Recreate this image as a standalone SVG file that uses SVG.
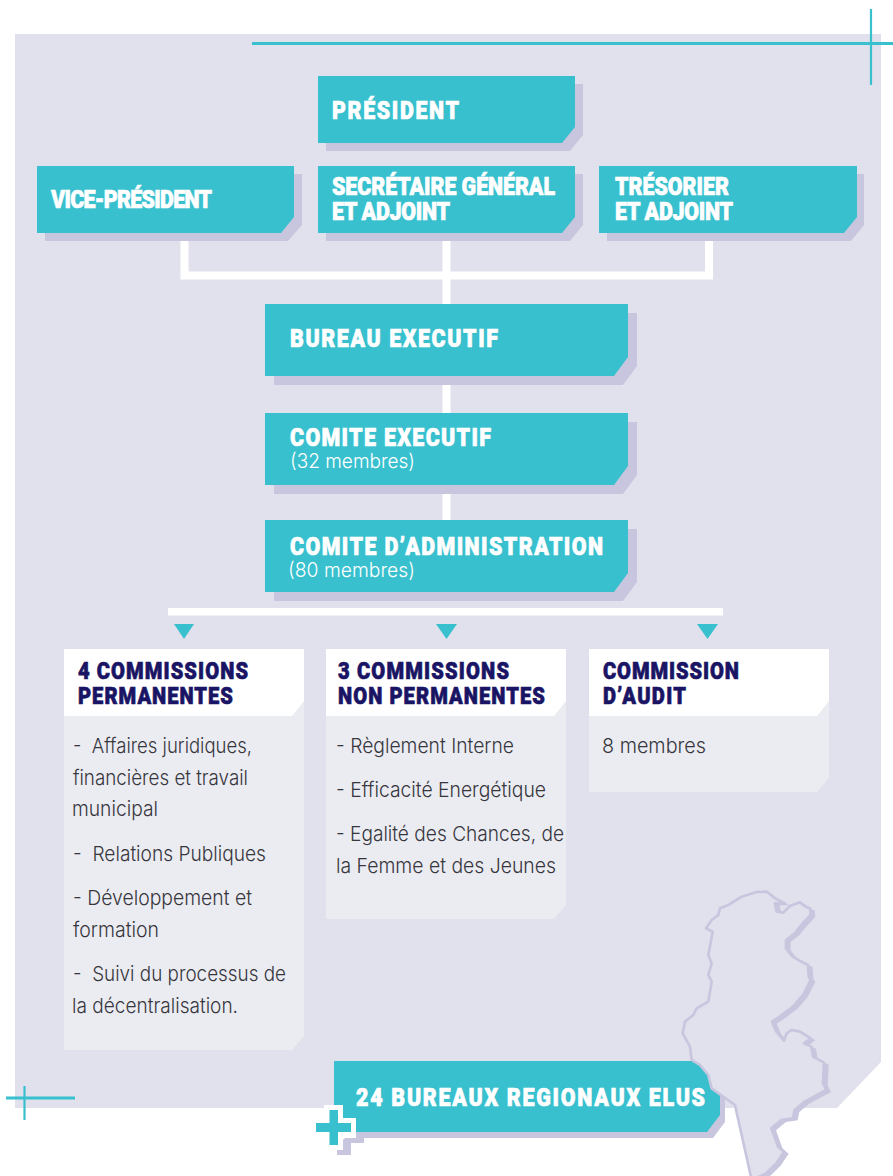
<svg xmlns="http://www.w3.org/2000/svg" width="893" height="1176" viewBox="0 0 893 1176">
<style>
.t{fill:#38c0ce}.s{fill:#c8c6de}.w{fill:#fff}.b{fill:#ebebf2}
.h{font-family:Roboto,"Liberation Sans",Arial,sans-serif;font-weight:900;fill:#fff;stroke:#fff;stroke-width:.7;font-size:25.500px}
.n{font-family:Roboto,"Liberation Sans",Arial,sans-serif;font-weight:900;fill:#1a1464;stroke:#1a1464;stroke-width:.7;font-size:24px}
.l{font-family:Inter,Roboto,"Liberation Sans",Arial,sans-serif;font-weight:300;fill:#36363c;font-size:20.500px}
.m{font-family:Inter,Roboto,"Liberation Sans",Arial,sans-serif;font-weight:300;fill:#fff;font-size:20px}
.c{fill:none;stroke:#fff;stroke-width:8}
.x{fill:none;stroke:#38c0ce}
</style>
<rect width="893" height="1176" fill="#fff"/>
<polygon id="background" points="15,34 881,34 881,1062 837,1108 15,1108" fill="#e1e0ed"/>
<g id="crosshairs">
<path class="x" stroke-width="3" d="M252 43.5H893M6 1098H75"/>
<path class="x" stroke-width="2.2" d="M871 9V85M24.5 1086V1120"/>
</g>
<g id="connectors">
<path class="c" d="M184.500 233V275.500H709V233M446.500 233V304M446.500 376V413M446.500 485V520"/>
<rect class="w" x="168" y="608" width="555" height="7.500"/>
<polygon class="t" points="174,624 194,624 184,639"/>
<polygon class="t" points="436,624 457,624 446.500,639"/>
<polygon class="t" points="697,624 718,624 707.500,639"/>
</g>
<g id="president">
<polygon class="s" points="326,84 583,84 583,135 570,151 326,151"/>
<polygon class="t" points="318,76 575,76 575,127 562,143 318,143"/>
<text class="h" transform="translate(332 119) scale(.84 1)" textLength="151.200">PRÉSIDENT</text>
</g>
<g id="vice-president">
<polygon class="s" points="45,174 302,174 302,225 288,241 45,241"/>
<polygon class="t" points="37,166 294,166 294,217 281,233 37,233"/>
<text class="h" transform="translate(51 208) scale(.84 1)" textLength="191.700">VICE-PRÉSIDENT</text>
</g>
<g id="secretaire">
<polygon class="s" points="326,174 583,174 583,225 570,241 326,241"/>
<polygon class="t" points="318,166 575,166 575,217 562,233 318,233"/>
<text class="h" transform="translate(332 195) scale(.84 1)" textLength="265.500">SECRÉTAIRE GÉNÉRAL</text>
<text class="h" transform="translate(332 220) scale(.84 1)" textLength="140.500">ET ADJOINT</text>
</g>
<g id="tresorier">
<polygon class="s" points="607,174 864,174 864,225 851,241 607,241"/>
<polygon class="t" points="599,166 857,166 857,217 844,233 599,233"/>
<text class="h" transform="translate(615 195) scale(.84 1)" textLength="135.700">TRÉSORIER</text>
<text class="h" transform="translate(615 220) scale(.84 1)" textLength="140.500">ET ADJOINT</text>
</g>
<g id="bureau-executif">
<polygon class="s" points="274,313 637,313 637,366 623,385 274,385"/>
<polygon class="t" points="265,304 628,304 628,357 614,376 265,376"/>
<text class="h" transform="translate(290 347) scale(.84 1)" textLength="247.600">BUREAU EXECUTIF</text>
</g>
<g id="comite-executif">
<polygon class="s" points="274,422 637,422 637,475 623,494 274,494"/>
<polygon class="t" points="265,413 628,413 628,466 614,485 265,485"/>
<text class="h" transform="translate(290 446) scale(.84 1)" textLength="239.300">COMITE EXECUTIF</text>
<text class="m" x="290" y="468" textLength="125" lengthAdjust="spacingAndGlyphs">(32 membres)</text>
</g>
<g id="comite-administration">
<polygon class="s" points="274,529 637,529 637,582 623,601 274,601"/>
<polygon class="t" points="265,520 628,520 628,573 614,592 265,592"/>
<text class="h" transform="translate(290 555) scale(.84 1)" textLength="372.600">COMITE D’ADMINISTRATION</text>
<text class="m" x="288" y="577" textLength="127" lengthAdjust="spacingAndGlyphs">(80 membres)</text>
</g>
<g id="commissions-permanentes">
<polygon class="b" points="64,649 304,649 304,1036 292,1050 64,1050"/>
<polygon class="w" points="64,649 304,649 304,701 292,716 64,716"/>
<text class="n" transform="translate(78 679) scale(.84 1)" textLength="202.400">4 COMMISSIONS</text>
<text class="n" transform="translate(78 704) scale(.84 1)" textLength="184.500">PERMANENTES</text>
<text class="l" x="73" y="753" textLength="179" lengthAdjust="spacingAndGlyphs">-&#160; Affaires juridiques,</text>
<text class="l" x="73" y="785" textLength="175" lengthAdjust="spacingAndGlyphs">financières et travail</text>
<text class="l" x="72" y="816" textLength="86" lengthAdjust="spacingAndGlyphs">municipal</text>
<text class="l" x="73" y="861" textLength="193" lengthAdjust="spacingAndGlyphs">-&#160; Relations Publiques</text>
<text class="l" x="73" y="905" textLength="179" lengthAdjust="spacingAndGlyphs">- Développement et</text>
<text class="l" x="73" y="937" textLength="86" lengthAdjust="spacingAndGlyphs">formation</text>
<text class="l" x="73" y="981" textLength="213" lengthAdjust="spacingAndGlyphs">-&#160; Suivi du processus de</text>
<text class="l" x="72" y="1013" textLength="166" lengthAdjust="spacingAndGlyphs">la décentralisation.</text>
</g>
<g id="commissions-non-permanentes">
<polygon class="b" points="326,649 566,649 566,905 554,919 326,919"/>
<polygon class="w" points="326,649 566,649 566,701 554,716 326,716"/>
<text class="n" transform="translate(338 679) scale(.84 1)" textLength="203.600">3 COMMISSIONS</text>
<text class="n" transform="translate(338 704) scale(.84 1)" textLength="246.400">NON PERMANENTES</text>
<text class="l" x="336" y="753" textLength="178" lengthAdjust="spacingAndGlyphs">- Règlement Interne</text>
<text class="l" x="336" y="797" textLength="210" lengthAdjust="spacingAndGlyphs">- Efficacité Energétique</text>
<text class="l" x="336" y="841" textLength="228" lengthAdjust="spacingAndGlyphs">- Egalité des Chances, de</text>
<text class="l" x="336" y="873" textLength="220" lengthAdjust="spacingAndGlyphs">la Femme et des Jeunes</text>
</g>
<g id="commission-audit">
<polygon class="b" points="589,649 829,649 829,778 817,792 589,792"/>
<polygon class="w" points="589,649 829,649 829,701 817,716 589,716"/>
<text class="n" transform="translate(603 679) scale(.84 1)" textLength="161.900">COMMISSION</text>
<text class="n" transform="translate(603 704) scale(.84 1)" textLength="98.800">D’AUDIT</text>
<text class="l" x="602" y="753" textLength="104" lengthAdjust="spacingAndGlyphs">8 membres</text>
</g>
<g id="bureaux-regionaux">
<polygon class="s" points="342,1069 725,1069 725,1122 713,1138 342,1138"/>
<polygon class="t" points="334,1061 720,1061 720,1115 707,1132 334,1132"/>
<text class="h" transform="translate(356 1106) scale(.84 1)" textLength="415.500">24 BUREAUX REGIONAUX ELUS</text>
</g>
<g id="map" transform="translate(640 870) scale(.3333)">
<path id="map-outer" class="s" transform="translate(14 6)" d="M305 80L350 66 380 65 405 85 435 100 405 100 410 125 430 128 450 108 480 97 497 110 510 115 512 135 484 165 464 190 438 210 438 235 458 260 484 275 504 285 506 320 512 330 489 375 459 410 419 440 396 455 409 485 432 512 440 490 455 480 480 485 512 505 492 520 514 530 519 560 552 578 549 640 559 660 494 695 464 720 459 745 424 750 394 775 414 830 432 845 409 880 379 910 335 930 285 705 215 655 205 615 180 585 155 570 150 530 128 490 135 455 160 435 170 415 205 395 215 335 205 315 215 280 205 255 218 185 198 175 215 150 235 135 240 115 265 105Z"/>
<path id="map-inner" fill="#e1e0ed" stroke="#c8c6de" stroke-width="8" stroke-linejoin="round" d="M305 80L350 66 380 65 405 85 435 100 405 100 410 125 430 128 450 108 480 97 497 110 510 115 512 135 484 165 464 190 438 210 438 235 458 260 484 275 504 285 506 320 512 330 489 375 459 410 419 440 396 455 409 485 432 512 440 490 455 480 480 485 512 505 492 520 514 530 519 560 552 578 549 640 559 660 494 695 464 720 459 745 424 750 394 775 414 830 432 845 409 880 379 910 335 930 285 705 215 655 205 615 180 585 155 570 150 530 128 490 135 455 160 435 170 415 205 395 215 335 205 315 215 280 205 255 218 185 198 175 215 150 235 135 240 115 265 105Z"/>
</g>
<g id="plus">
<polygon class="s" points="337,1150 337,1155 351,1155 351,1143 364,1143 364,1138 345,1138 337,1145"/>
<polygon class="w" points="324,1105 343,1105 343,1118 356,1118 356,1138 343,1138 343,1150 324,1150 324,1138 316,1138 316,1118 324,1118"/>
<polygon class="t" points="329.500,1110 338,1110 338,1123 351,1123 351,1132 338,1132 338,1145 329.500,1145 329.500,1132 316,1132 316,1123 329.500,1123"/>
</g>
</svg>
